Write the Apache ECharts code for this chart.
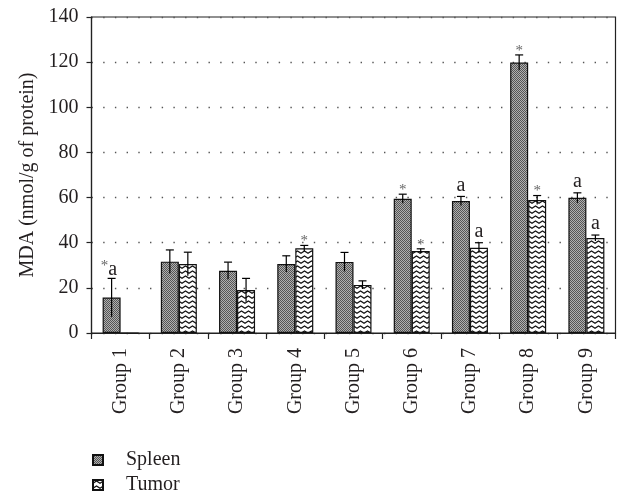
<!DOCTYPE html>
<html>
<head>
<meta charset="utf-8">
<script src="https://cdn.jsdelivr.net/npm/echarts@6/dist/echarts.min.js"></script>
<style>
html,body{margin:0;padding:0;background:#fff;}
#chart{width:617px;height:500px;}
</style>
</head>
<body>
<div id="chart"></div>
<script>
// ---- data ----
const categories = ['Group 1','Group 2','Group 3','Group 4','Group 5','Group 6','Group 7','Group 8','Group 9'];
const spleen     = [15.7, 31.6, 27.6, 30.6, 31.5, 59.5, 58.5, 119.8, 59.9];
const spleenErr  = [8.5, 5.2, 3.8, 3.6, 4.2, 2.0, 2.0, 3.4, 2.2];
const tumor      = [0, 30.6, 19.0, 37.5, 21.3, 36.3, 37.8, 58.9, 42.1];
const tumorErr   = [0, 5.2, 5.2, 1.3, 1.8, 1.0, 2.2, 2.0, 1.3];
const spleenMark = ['*a', '', '', '', '', '*', 'a', '*', 'a'];
const tumorMark  = ['', '', '', '*', '', '*', 'a', '*', 'a'];
const seriesNames = ['Spleen', 'Tumor'];
const yTicks = { min: 0, max: 140, interval: 20 };

// ---- styles ----
const FONT = '"Liberation Serif", "DejaVu Serif", serif';
const TXT = '#231f20';
const BAR_W = 18;
const FS = 20;

function spleenPattern() {
  const c = document.createElement('canvas');
  c.width = 2; c.height = 2;
  const g = c.getContext('2d');
  g.fillStyle = '#b0b0b0'; g.fillRect(0, 0, 2, 2);
  g.fillStyle = '#555555'; g.fillRect(0, 0, 1, 1); g.fillRect(1, 1, 1, 1);
  return { image: c, repeat: 'repeat' };
}
function tumorPattern() {
  const c = document.createElement('canvas');
  c.width = 7; c.height = 5;
  const g = c.getContext('2d');
  g.fillStyle = '#ffffff'; g.fillRect(0, 0, 7, 5);
  g.strokeStyle = '#111'; g.lineWidth = 1.1;
  g.beginPath();
  g.moveTo(-0.5, 3.6); g.lineTo(3.5, 1.0); g.lineTo(7.5, 3.6);
  g.stroke();
  return { image: c, repeat: 'repeat' };
}

function errSeries(name, vals, errs, marks, offset) {
  return {
    type: 'custom',
    name: name + ' err',
    z: 10,
    silent: true,
    data: categories.map((c, i) => [i, vals[i], errs[i]]),
    renderItem: function (params, api) {
      const idx = api.value(0), v = api.value(1), e = api.value(2);
      const base = api.coord([idx, v]);
      const x = base[0] + offset;
      const top = api.coord([idx, v + e])[1];
      const bot = api.coord([idx, Math.max(v - e, 0)])[1];
      const children = [];
      if (e > 0) {
        children.push({ type: 'line', shape: { x1: x, y1: top, x2: x, y2: bot }, style: { stroke: '#000', lineWidth: 1.2 } });
        children.push({ type: 'line', shape: { x1: x - 4, y1: top, x2: x + 4, y2: top }, style: { stroke: '#000', lineWidth: 1.2 } });
      }
      const m = marks[params.dataIndex];
      if (m) {
        const pair = m.length > 1;
        if (m.indexOf('*') >= 0) {
          children.push({
            type: 'text',
            style: {
              x: pair ? x - 7 : x, y: pair ? top - 12 : top - 4,
              text: '*', align: 'center', verticalAlign: 'middle',
              fontFamily: FONT, fontSize: 15, fill: '#666'
            }
          });
        }
        if (m.indexOf('a') >= 0) {
          children.push({
            type: 'text',
            style: {
              x: pair ? x + 1 : x, y: pair ? top - 9 : top - 11,
              text: 'a', align: 'center', verticalAlign: 'middle',
              fontFamily: FONT, fontSize: FS, fill: TXT
            }
          });
        }
      }
      return { type: 'group', children: children };
    }
  };
}

function legendFor(name, top) {
  return {
    orient: 'vertical', left: 92, top: top, padding: 0,
    icon: 'rect', itemWidth: 10, itemHeight: 10, itemGap: 0,
    textStyle: { fontFamily: FONT, fontSize: FS, color: TXT, lineHeight: 20, padding: [0, 0, 0, 18] },
    data: [name]
  };
}

const chart = echarts.init(document.getElementById('chart'), null, { renderer: 'canvas' });
chart.setOption({
  animation: false,
  backgroundColor: '#fff',
  textStyle: { fontFamily: FONT, color: TXT },
  grid: { left: 91.5, right: 1.5, top: 17, bottom: 167, show: true, borderColor: '#222', borderWidth: 1.2 },
  legend: [legendFor(seriesNames[0], 450), legendFor(seriesNames[1], 475)],
  xAxis: {
    type: 'category',
    data: categories,
    axisLine: { lineStyle: { color: '#222', width: 1.2 } },
    axisTick: { show: true, length: 6, lineStyle: { color: '#222', width: 1.2 } },
    axisLabel: { rotate: 90, margin: 15, fontFamily: FONT, fontSize: FS, color: TXT }
  },
  yAxis: {
    type: 'value',
    min: yTicks.min, max: yTicks.max, interval: yTicks.interval,
    name: 'MDA (nmol/g of protein)',
    nameLocation: 'middle', nameGap: 53,
    nameTextStyle: { fontFamily: FONT, fontSize: FS, color: TXT },
    axisLine: { show: true, lineStyle: { color: '#222', width: 1.2 } },
    axisTick: { show: true, length: 5, lineStyle: { color: '#222', width: 1.2 } },
    axisLabel: { margin: 13, fontFamily: FONT, fontSize: FS, color: TXT },
    splitLine: { show: true, lineStyle: { color: '#555', width: 1.4, type: [1.4, 10.3] } }
  },
  series: [
    {
      name: seriesNames[0], type: 'bar', data: spleen, barWidth: BAR_W, barGap: '0%',
      itemStyle: { color: spleenPattern(), borderColor: '#111', borderWidth: 1.2 }
    },
    {
      name: seriesNames[1], type: 'bar', data: tumor, barWidth: BAR_W, barGap: '0%',
      itemStyle: { color: tumorPattern(), borderColor: '#111', borderWidth: 1.2 }
    },
    errSeries(seriesNames[0], spleen, spleenErr, spleenMark, -BAR_W / 2),
    errSeries(seriesNames[1], tumor, tumorErr, tumorMark, BAR_W / 2)
  ]
});
</script>
</body>
</html>
